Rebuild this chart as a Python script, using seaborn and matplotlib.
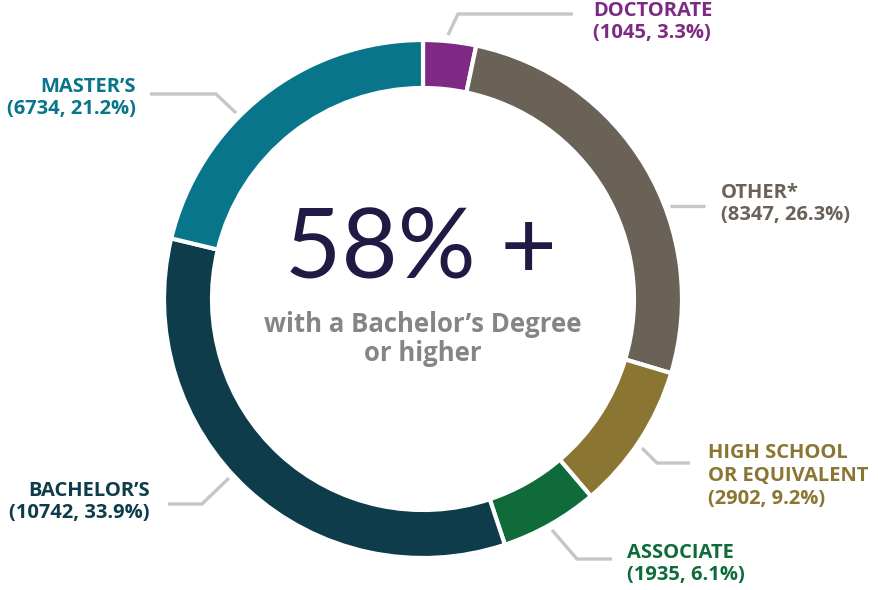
import matplotlib
matplotlib.use('Agg')
import matplotlib.pyplot as plt
import seaborn as sns

# -----------------------------------------------
# Data
# -----------------------------------------------
categories = ['DOCTORATE', 'OTHER*', 'HIGH SCHOOL\nOR EQUIVALENT', 'ASSOCIATE', "BACHELOR\u2019S", "MASTER\u2019S"]
counts = [1045, 8347, 2902, 1935, 10742, 6734]
percents = [3.3, 26.3, 9.2, 6.1, 33.9, 21.2]
center_big = '58% +'
center_small = 'with a Bachelor\u2019s Degree\nor higher'

colors = ['#7E2A85', '#6A6257', '#8A7632', '#0F6B3A', '#0E3C4A', '#08758A']

# -----------------------------------------------
# Layout (pixel coords, y measured from the top)
# -----------------------------------------------
W, H = 879, 590
cx, cy, r_out, ring = 423, 299, 259, 48

# label anchor (x, y centre of block, alignment)
label_pos = [(593, 22, 'left'), (721, 204, 'left'), (708, 476, 'left'),
             (627, 564, 'left'), (150, 502, 'right'), (136, 98, 'right')]
leaders = [
    [(448, 35), (458, 14), (573, 14)],
    [(670, 206), (705, 206)],
    [(642, 448), (657, 463), (690, 463)],
    [(552, 530), (577, 559), (612, 559)],
    [(229, 478), (202, 504), (168, 504)],
    [(236, 113), (216, 94), (150, 94)],
]

sns.set_theme(style='white')
plt.rcParams['font.family'] = ['Open Sans', 'DejaVu Sans']

fig = plt.figure(figsize=(W / 100, H / 100), dpi=100)
ax = fig.add_axes([0, 0, 1, 1])

ax.pie(counts, colors=colors, startangle=90, counterclock=False,
       radius=r_out, center=(cx, H - cy),
       wedgeprops=dict(width=ring, edgecolor='white', linewidth=3))

for pts in leaders:
    xs = [p[0] for p in pts]
    ys = [H - p[1] for p in pts]
    ax.plot(xs, ys, color='#C6C6C6', lw=2.4, solid_capstyle='butt', solid_joinstyle='miter')

for cat, n, pct, col, (lx, ly, ha) in zip(categories, counts, percents, colors, label_pos):
    ax.text(lx, H - ly, f'{cat}\n({n}, {pct}%)', ha=ha, va='center', color=col,
            fontsize=14.5, fontweight='bold', linespacing=1.17, multialignment=ha)

ax.text(421, H - 251, center_big, ha='center', va='center', color='#221A45',
        fontsize=70, fontweight='normal', family=['Lato', 'DejaVu Sans'])
ax.text(423, H - 339, center_small, ha='center', va='center', color='#858585',
        fontsize=18.5, fontweight='bold', linespacing=1.05)

ax.set_xlim(0, W)
ax.set_ylim(0, H)
ax.set_aspect('auto')
ax.axis('off')

plt.savefig('out.png', dpi=100, facecolor='white')
